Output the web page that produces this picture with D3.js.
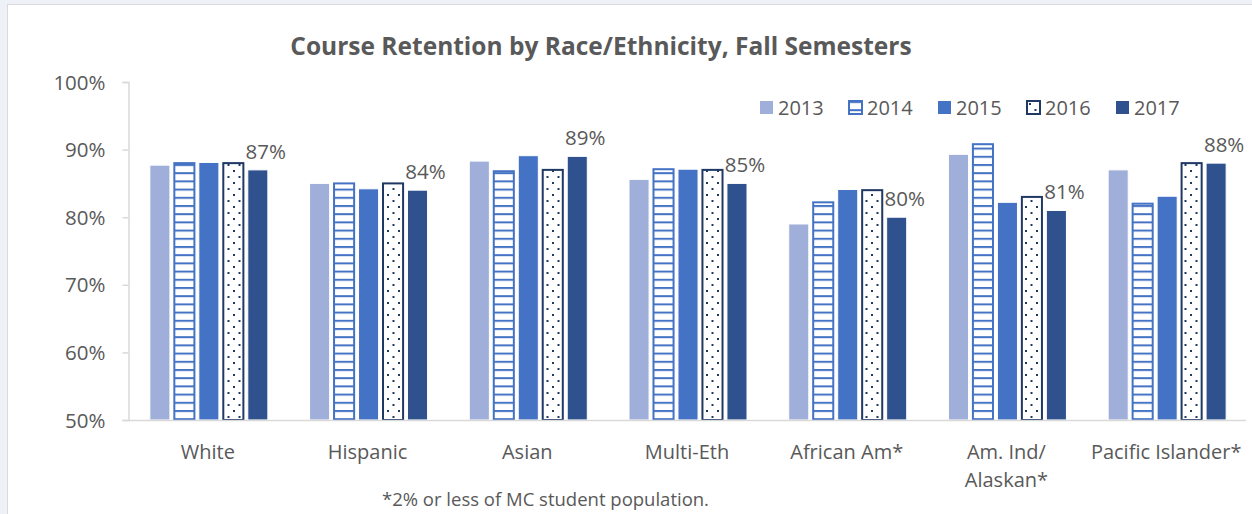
<!DOCTYPE html>
<html>
<head>
<meta charset="utf-8">
<script src="https://cdn.jsdelivr.net/npm/d3@7"></script>
<style>
  html, body { margin: 0; padding: 0; background: #eef2f8; }
  svg { display: block; }
  text { font-family: "Open Sans", sans-serif; fill: #595959; }
</style>
</head>
<body>
<script>
const categories = ["White", "Hispanic", "Asian", "Multi-Eth", "African Am*", "Am. Ind/\nAlaskan*", "Pacific Islander*"];
const years = ["2013", "2014", "2015", "2016", "2017"];
const v2013 = [87.7, 85.0, 88.3, 85.6, 79.0, 89.3, 87.0];
const v2014 = [88.0, 85.0, 86.8, 87.1, 82.2, 90.8, 82.0];
const v2015 = [88.1, 84.2, 89.1, 87.1, 84.1, 82.2, 83.1];
const v2016 = [88.0, 85.0, 87.0, 87.0, 84.0, 83.0, 88.0];
const v2017 = [87.0, 84.0, 89.0, 85.0, 80.0, 81.0, 88.0];
const yTicks = [50, 60, 70, 80, 90, 100];
const title = "Course Retention by Race/Ethnicity, Fall Semesters";
const footnote = "*2% or less of MC student population.";

const series = [v2013, v2014, v2015, v2016, v2017];

const width = 1252,
  height = 514;

const svg = d3.select("body")
  .append("svg")
  .attr("width", width)
  .attr("height", height);

// patterns for 2014 (stripes) and 2016 (dots)
const defs = svg.append("defs");
const stripes = defs.append("pattern")
  .attr("id", "stripes")
  .attr("patternUnits", "userSpaceOnUse")
  .attr("width", 8).attr("height", 8.2);
stripes.append("rect").attr("width", 8).attr("height", 8.2).attr("fill", "#fff");
stripes.append("rect").attr("y", 0).attr("width", 8).attr("height", 2).attr("fill", "#4472c4");

const dots = defs.append("pattern")
  .attr("id", "dots")
  .attr("patternUnits", "userSpaceOnUse")
  .attr("width", 11).attr("height", 12);
dots.append("rect").attr("width", 11).attr("height", 12).attr("fill", "#fff");
dots.append("rect").attr("x", 2).attr("y", 2).attr("width", 2).attr("height", 2).attr("fill", "#1f3864");
dots.append("rect").attr("x", 7.5).attr("y", 8).attr("width", 2).attr("height", 2).attr("fill", "#1f3864");

const fills = ["#a0afd9", "url(#stripes)", "#4472c4", "url(#dots)", "#2f528f"];
const strokes = ["#fff", "#4472c4", "#fff", "#203864", "#fff"];
const strokeW = [1, 2, 1, 2, 1];

// chart area
svg.append("rect")
  .attr("x", 7.5).attr("y", 4.5)
  .attr("width", width).attr("height", height)
  .attr("fill", "#fff")
  .attr("stroke", "#d9d9d9");

const y = d3.scaleLinear().domain([50, 100]).range([420, 82]);
const x = d3.scaleBand().domain(categories).range([128, 1246]);
const xs = d3.scaleBand().domain(years).range([0, 118]).paddingInner(0.18);

// y axis
const yAxis = d3.axisLeft(y).tickValues(yTicks).tickSize(6).tickFormat(d => d + "%");
const gy = svg.append("g")
  .attr("class", "y-axis")
  .attr("transform", "translate(128.5,0)")
  .call(yAxis);
gy.select(".domain").attr("stroke", "#d9d9d9").attr("stroke-width", 1.5);
gy.selectAll(".tick line").attr("stroke", "#d9d9d9").attr("stroke-width", 1.5);
gy.selectAll(".tick text")
  .attr("x", -23)
  .attr("dy", "0.35em")
  .style("font-size", "20.5px")
  .style("font-family", "Open Sans, sans-serif")
  .attr("fill", "#595959");

// bars
series.forEach((vals, i) => {
  svg.append("g")
    .selectAll("rect")
    .data(vals)
    .join("rect")
    .attr("x", (d, j) => x(categories[j]) + x.bandwidth() / 2 - 58 + xs(years[i]))
    .attr("y", d => y(d))
    .attr("width", xs.bandwidth())
    .attr("height", d => y(50) - y(d))
    .attr("fill", fills[i])
    .attr("stroke", strokes[i])
    .attr("stroke-width", strokeW[i]);
});

// x axis baseline
svg.append("line")
  .attr("x1", 128).attr("x2", 1246)
  .attr("y1", y(50) + 0.5).attr("y2", y(50) + 0.5)
  .attr("stroke", "#d9d9d9").attr("stroke-width", 1.5);

// data labels on 2017
svg.append("g")
  .selectAll("text")
  .data(v2017)
  .join("text")
  .attr("x", (d, j) => x(categories[j]) + x.bandwidth() / 2 - 58 + xs("2017") + xs.bandwidth() / 2 + 8)
  .attr("y", d => y(d) - 11)
  .attr("text-anchor", "middle")
  .style("font-size", "20.5px")
  .text(d => d3.format(".0f")(d) + "%");

// category labels
const cat = svg.append("g")
  .selectAll("text")
  .data(categories)
  .join("text")
  .attr("x", d => x(d) + x.bandwidth() / 2)
  .attr("y", 459)
  .attr("text-anchor", "middle")
  .style("font-size", "20px");
cat.each(function(d) {
  const lines = d.split("\n");
  const t = d3.select(this);
  lines.forEach((l, k) => {
    t.append("tspan")
      .attr("x", x(d) + x.bandwidth() / 2)
      .attr("dy", k === 0 ? 0 : 28)
      .text(l);
  });
});

// title
svg.append("text")
  .attr("x", 601)
  .attr("y", 55)
  .attr("text-anchor", "middle")
  .style("font-size", "24.5px")
  .style("font-weight", "bold")
  .text(title);

// legend
const legendX = [760, 849, 938, 1027, 1116];
const lg = svg.append("g")
  .selectAll("g")
  .data(years)
  .join("g")
  .attr("transform", (d, i) => "translate(" + legendX[i] + ",101)");
lg.append("rect")
  .attr("width", 13).attr("height", 13)
  .attr("fill", (d, i) => fills[i])
  .attr("stroke", (d, i) => i === 1 ? "#4472c4" : i === 3 ? "#203864" : "none")
  .attr("stroke-width", 2);
lg.append("text")
  .attr("x", 18)
  .attr("y", 14)
  .style("font-size", "20px")
  .text(d => d);

// footnote
svg.append("text")
  .attr("x", 382)
  .attr("y", 506)
  .style("font-size", "18.5px")
  .text(footnote);
</script>
</body>
</html>
